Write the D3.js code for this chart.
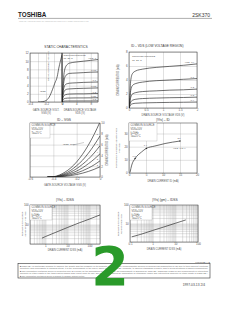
<!DOCTYPE html>
<html>
<head>
<meta charset="utf-8">
<script src="https://cdn.jsdelivr.net/npm/d3@7"></script>
<style>
  body { margin: 0; background: #fff; }
  svg { display: block; }
</style>
</head>
<body>
<div id="page"></div>
<script>
// values (2SK370, page 2/4)

// static characteristics, left half: ID (mA) vs VGS (V)
var staticVgs = [-0.30, -0.24, -0.20, -0.16, -0.12, -0.09, -0.06, -0.04, -0.02, 0];
var staticId = [0, 0.1, 0.35, 1.2, 3.0, 4.6, 6.2, 8.3, 10.0, 11.5];
// right half: ID (mA) vs VDS (V), one row per VGS step
var staticVds = [0, 0.3, 0.6, 1, 1.5, 2, 4, 6, 8, 10];
var staticSteps = ["VGS=0", "-0.05", "-0.1", "-0.15", "-0.2", "-0.25", "-0.3"];
var staticCurves = [
  [0, 4.5, 7.2, 8.6, 9.2, 9.5, 9.8, 10.0, 10.2, 10.4],
  [0, 3.4, 5.4, 6.4, 6.8, 7.0, 7.1, 7.2, 7.3, 7.35],
  [0, 2.4, 3.7, 4.3, 4.5, 4.6, 4.7, 4.8, 4.85, 4.9],
  [0, 1.7, 2.6, 3.0, 3.15, 3.2, 3.3, 3.35, 3.4, 3.45],
  [0, 1.1, 1.6, 1.8, 1.9, 1.95, 2.0, 2.0, 2.05, 2.1],
  [0, 0.55, 0.8, 0.9, 0.95, 0.97, 1.0, 1.0, 1.02, 1.05],
  [0, 0.15, 0.2, 0.23, 0.24, 0.25, 0.25, 0.26, 0.26, 0.27]
];

// ID - VDS, low voltage region
var lowVds = [0, 0.02, 0.05, 0.1, 0.2, 0.4, 0.8, 1.2, 1.6, 2.0];
var lowSteps = ["VGS=0V", "-0.1", "-0.2", "-0.3", "-0.4"];
var lowCurves = [
  [0, 1.5, 3.9, 4.9, 5.3, 5.55, 5.8, 5.95, 6.1, 6.3],
  [0, 1.0, 2.5, 3.2, 3.5, 3.7, 3.9, 4.0, 4.1, 4.2],
  [0, 0.6, 1.5, 2.0, 2.2, 2.35, 2.45, 2.55, 2.6, 2.7],
  [0, 0.35, 0.85, 1.1, 1.25, 1.35, 1.42, 1.47, 1.5, 1.55],
  [0, 0.2, 0.45, 0.6, 0.68, 0.73, 0.77, 0.8, 0.82, 0.85]
];

// ID - VGS, one row per IDSS rank
var gateVgs = [-0.45, -0.4, -0.35, -0.3, -0.25, -0.2, -0.15, -0.1, -0.05, 0];
var gateSteps = ["", "8", "6", "4", "3", "2"];
var gateCurves = [
  [0, 0.05, 0.35, 0.9, 1.7, 2.8, 4.2, 5.9, 7.9, 10.2],
  [0, 0.03, 0.25, 0.65, 1.25, 2.1, 3.1, 4.4, 5.9, 7.6],
  [0, 0.02, 0.18, 0.48, 0.92, 1.55, 2.35, 3.3, 4.45, 5.8],
  [0, 0.01, 0.12, 0.34, 0.66, 1.1, 1.7, 2.45, 3.3, 4.3],
  [0, 0, 0.08, 0.22, 0.44, 0.74, 1.15, 1.65, 2.25, 3.0],
  [0, 0, 0.04, 0.13, 0.27, 0.46, 0.71, 1.03, 1.42, 1.9]
];

// |Yfs| (mS) - ID (mA)
var yfsId = [0.3, 0.8, 1.8, 3.7, 5.1, 7.6, 10.6, 15];
var yfsVal = [0.4, 6, 11, 16, 18.7, 20.5, 22.4, 24.3];
var yfsMarks = [2, 4, 7];
var yfsMarkLabels = ["0.8", "1.4", "3.0"];

// |Yfs| - IDSS, log-log
var idssX = [0.7, 1, 3, 10, 30, 100, 300];
var idssYfs = [2.0, 2.4, 4.0, 7.0, 11.5, 19, 31];

// |Yfs| (gm) - IDSS, log-log
var gmX = [0.12, 0.3, 1, 3, 10, 29];
var gmYfs = [1.9, 2.6, 4.2, 6.4, 10.3, 15.6];

var font = "Liberation Sans, Arial, sans-serif";

var svg = d3.select("#page").append("svg")
    .attr("width", 240)
    .attr("height", 310);
svg.append("rect").attr("width", 240).attr("height", 310).attr("fill", "#fff");

function txt(x, y, s, size, anchor, fill, rot) {
    var t = svg.append("text")
        .attr("x", x).attr("y", y)
        .attr("font-family", font)
        .attr("font-size", size)
        .attr("fill", fill || "#444")
        .attr("text-anchor", anchor || "start")
        .text(s);
    if (rot) t.attr("transform", "rotate(-90," + x + "," + y + ")");
    return t;
}

var clipN = 0;
// grid, ticks and frame for one plot area
function grid(x, y, xt, yt, xf, yf, yRight) {
    var l = x.range()[0], r = x.range()[1];
    var b = y.range()[0], t = y.range()[1];
    var gx = svg.append("g")
        .attr("transform", "translate(0," + b + ")")
        .call(d3.axisBottom(x).tickValues(xt).tickSize(-(b - t)).tickPadding(1.3).tickFormat(xf));
    var gy = svg.append("g")
        .attr("transform", "translate(" + (yRight ? r : l) + ",0)")
        .call((yRight ? d3.axisRight(y) : d3.axisLeft(y)).tickValues(yt).tickSize(-(r - l)).tickPadding(1.3).tickFormat(yf));
    [gx, gy].forEach(function (g) {
        g.select(".domain").remove();
        g.selectAll("line").attr("stroke", "#9a9a9a").attr("stroke-width", 0.3);
        g.selectAll("text").attr("font-size", 2.9).attr("fill", "#555").attr("font-family", font);
    });
    svg.append("rect")
        .attr("x", l).attr("y", t).attr("width", r - l).attr("height", b - t)
        .attr("fill", "none").attr("stroke", "#333").attr("stroke-width", 0.5);
    clipN++;
    svg.append("clipPath").attr("id", "c" + clipN)
        .append("rect").attr("x", l).attr("y", t).attr("width", r - l).attr("height", b - t);
    return "url(#c" + clipN + ")";
}

function curve(x, y, xs, ys, clip, smooth) {
    var line = d3.line()
        .x(function (d) { return x(d[0]); })
        .y(function (d) { return y(d[1]); })
        .curve(smooth || d3.curveMonotoneX);
    svg.append("path")
        .datum(xs.map(function (v, i) { return [v, ys[i]]; }))
        .attr("d", line)
        .attr("clip-path", clip)
        .attr("fill", "none")
        .attr("stroke", "#222")
        .attr("stroke-width", 0.65);
}

function legend(x0, y0, w, h, lines) {
    svg.append("rect").attr("x", x0).attr("y", y0).attr("width", w).attr("height", h)
        .attr("fill", "#fff").attr("stroke", "#9a9a9a").attr("stroke-width", 0.3);
    lines.forEach(function (s, i) { txt(x0 + 1.5, y0 + 3.4 + i * 3.6, s, 2.6, "start", "#555"); });
}

var logFmt = function (d) { return Math.abs(Math.log10(d) % 1) < 1e-9 ? d : ""; };
// y labels on log charts: skip the bottom decade so it clears the x labels
var logFmtY = function (d) { return d > 1 && Math.abs(Math.log10(d) % 1) < 1e-9 ? d : ""; };
function logTicks(lo, hi) {
    var out = [];
    for (var e = Math.floor(Math.log10(lo)); e <= Math.ceil(Math.log10(hi)); e++)
        for (var m = 1; m < 10; m++) {
            var v = m * Math.pow(10, e);
            if (v >= lo && v <= hi) out.push(+v.toPrecision(3));
        }
    return out;
}

// ---------- header ----------
txt(18, 17, "TOSHIBA", 6.3, "start", "#222").attr("font-weight", "bold");
txt(210, 17, "2SK370", 5, "end", "#333");
svg.append("line").attr("x1", 18).attr("x2", 212).attr("y1", 18.4).attr("y2", 18.4)
    .attr("stroke", "#777").attr("stroke-width", 0.6);
txt(19, 21.6, "TOSHIBA FIELD EFFECT TRANSISTOR  SILICON N CHANNEL JUNCTION TYPE", 1.9, "start", "#bbb");

// ---------- static characteristics ----------
var s1y = d3.scaleLinear().domain([0, 12]).range([102, 53]);
var s1xL = d3.scaleLinear().domain([-0.4, 0]).range([30, 62]);
var s1xR = d3.scaleLinear().domain([0, 10]).range([62, 98]);
var cL = grid(s1xL, s1y, [-0.4, -0.3, -0.2, -0.1, 0], d3.range(0, 13, 2),
    function (d) { return Math.abs(d * 10) % 2 < 0.01 ? d : ""; }, function (d) { return d; });
var cR = grid(s1xR, s1y, [0, 2, 4, 6, 8, 10], d3.range(0, 13, 2),
    function (d) { return d % 4 === 0 ? d : ""; }, function () { return ""; });
svg.append("line").attr("x1", 62).attr("x2", 62).attr("y1", 53).attr("y2", 102)
    .attr("stroke", "#333").attr("stroke-width", 0.5);
curve(s1xL, s1y, staticVgs, staticId, cL);
staticCurves.forEach(function (c, i) {
    curve(s1xR, s1y, staticVds, c, cR);
    txt(96, s1y(c[c.length - 1]) - 0.8, staticSteps[i], 2.4, "end", "#555");
});
txt(66, 47.5, "STATIC CHARACTERISTICS", 3.3, "middle", "#333");
txt(63.5, 56.2, "COMMON SOURCE", 2.4, "start", "#555");
txt(63.5, 59.2, "Ta=25°C", 2.4, "start", "#555");
txt(48.5, 66, "DRAIN CURRENT  ID  (mA)", 2.5, "middle", "#555", true);
txt(40, 92, "IDSS", 2.4, "start", "#555");
txt(46, 110.5, "GATE-SOURCE VOLT.", 2.6, "middle", "#555");
txt(46, 114, "VGS   (V)", 2.6, "middle", "#555");
txt(80, 110.5, "DRAIN-SOURCE VOLTAGE", 2.6, "middle", "#555");
txt(80, 114, "VDS   (V)", 2.6, "middle", "#555");

// ---------- ID - VDS (low voltage region) ----------
var s2x = d3.scaleLinear().domain([0, 2]).range([129, 197]);
var s2y = d3.scaleLinear().domain([0, 8]).range([108, 52]);
var c2 = grid(s2x, s2y, [0, 0.5, 1, 1.5, 2], [0, 2, 4, 6, 8],
    function (d) { return d; }, function (d) { return d; });
lowCurves.forEach(function (c, i) {
    curve(s2x, s2y, lowVds, c, c2);
    txt(194, s2y(c[c.length - 1]) - 1, lowSteps[i], 2.4, "end", "#555");
});
txt(131, 46.5, "ID – VDS     (LOW VOLTAGE REGION)", 3.2, "start", "#333");
txt(132, 56.5, "COMMON SOURCE", 2.5, "start", "#555");
txt(132, 60.5, "Ta=25°C", 2.5, "start", "#555");
txt(118.5, 80, "DRAIN CURRENT   ID   (mA)", 2.6, "middle", "#555", true);
txt(163, 115.5, "DRAIN-SOURCE VOLTAGE   VDS   (V)", 2.6, "middle", "#555");

// ---------- ID - VGS ----------
var s3x = d3.scaleLinear().domain([-0.6, 0]).range([30, 100]);
var s3y = d3.scaleLinear().domain([0, 10]).range([177, 123]);
var c3 = grid(s3x, s3y, [-0.6, -0.4, -0.2, 0], [0, 2, 4, 6, 8, 10],
    function (d) { return d; }, function (d) { return d; }, true);
legend(30, 123, 20, 15, ["COMMON SOURCE", "VDS=10V", "Ta=25°C"]);
gateCurves.forEach(function (c, i) {
    curve(s3x, s3y, gateVgs, c, c3);
    if (gateSteps[i]) txt(98, s3y(c[c.length - 1]) - 0.8, gateSteps[i], 2.3, "end", "#555");
});
txt(64, 120.5, "ID – VGS", 3.3, "middle", "#333");
txt(63, 144.5, "IDSS=10mA", 2.4, "start", "#555");
svg.append("line").attr("x1", 73).attr("x2", 84).attr("y1", 145).attr("y2", 142.5)
    .attr("stroke", "#555").attr("stroke-width", 0.3);
txt(107.5, 150, "DRAIN CURRENT   ID   (mA)", 2.6, "middle", "#555", true);
txt(65, 186, "GATE-SOURCE VOLTAGE   VGS   (V)", 2.6, "middle", "#555");

// ---------- |Yfs| - ID ----------
var s4x = d3.scaleLinear().domain([0, 20]).range([129, 197]);
var s4y = d3.scaleLinear().domain([0, 38]).range([173, 123]);
var c4 = grid(s4x, s4y, [0, 5, 10, 15, 20], [0, 10, 20, 30],
    function (d) { return d; }, function (d) { return d; });
legend(129, 123, 28, 18, ["COMMON SOURCE", "VDS=10V", "f=1kHz", "Ta=25°C"]);
curve(s4x, s4y, yfsId, yfsVal, c4, d3.curveMonotoneX);
yfsMarks.forEach(function (k, i) {
    svg.append("circle").attr("cx", s4x(yfsId[k])).attr("cy", s4y(yfsVal[k])).attr("r", 0.7).attr("fill", "#222");
    txt(s4x(yfsId[k]) - 1, s4y(yfsVal[k]) - 2, yfsMarkLabels[i], 2.3, "middle", "#555");
});
txt(163, 120.5, "|Yfs| – ID", 3.3, "middle", "#333");
txt(173, 148.5, "VGS=0 to V", 2.4, "start", "#555");
txt(116.5, 148, "FORWARD TRANSFER ADMITTANCE", 2.3, "middle", "#555", true);
txt(120, 148, "|Yfs|   (mS)", 2.3, "middle", "#555", true);
txt(163, 182, "DRAIN CURRENT   ID   (mA)", 2.6, "middle", "#555");

// ---------- |Yfs| - IDSS ----------
var s5x = d3.scaleLog().domain([0.2, 300]).range([30, 100]);
var s5y = d3.scaleLog().domain([1, 100]).range([244, 205]);
var c5 = grid(s5x, s5y, logTicks(0.2, 300), logTicks(1, 100), logFmt, logFmtY);
legend(30, 205, 22, 15, ["COMMON SOURCE", "VDS=10V", "f=1kHz", "Ta=25°C"]);
curve(s5x, s5y, idssX, idssYfs, c5, d3.curveLinear);
txt(65, 200.5, "|Yfs| – IDSS", 3.3, "middle", "#333");
txt(22.5, 224, "FORWARD TRANSFER", 2.3, "middle", "#555", true);
txt(25.5, 224, "ADMITTANCE |Yfs| (mS)", 2.3, "middle", "#555", true);
txt(65, 251, "DRAIN CURRENT   IDSS   (mA)", 2.6, "middle", "#555");

// ---------- |Yfs| (gm) - IDSS ----------
var s6x = d3.scaleLog().domain([0.1, 100]).range([130, 198]);
var s6y = d3.scaleLog().domain([1, 100]).range([242, 205]);
var c6 = grid(s6x, s6y, logTicks(0.1, 100), logTicks(1, 100), logFmt, logFmtY);
legend(130, 205, 22, 15, ["COMMON SOURCE", "VDS=10V", "f=1kHz", "Ta=25°C"]);
curve(s6x, s6y, gmX, gmYfs, c6, d3.curveLinear);
txt(165, 200.5, "|Yfs| (gm) – IDSS", 3.3, "middle", "#333");
txt(119, 224, "FORWARD TRANSFER", 2.3, "middle", "#555", true);
txt(122, 224, "ADMITTANCE (mS)", 2.3, "middle", "#555", true);
txt(164, 250, "DRAIN CURRENT   IDSS   (mA)", 2.6, "middle", "#555");

// ---------- notice box ----------
txt(210, 262.6, "961001EAA2", 2.5, "end", "#555");
svg.append("rect").attr("x", 18).attr("y", 263.5).attr("width", 192).attr("height", 14.5)
    .attr("fill", "#fff").attr("stroke", "#333").attr("stroke-width", 0.6);
var notice = [
    "\u25A0 TOSHIBA is continually working to improve the quality and the reliability of its products. Nevertheless, semiconductor devices in general can malfunction or fail due to their inherent electrical",
    "   sensitivity and vulnerability to physical stress. It is the responsibility of the buyer, when utilizing TOSHIBA products, to observe standards of safety, and to avoid situations in which a malfunction.",
    "\u25A0 The information contained herein is presented only as a guide for the applications of our products. No responsibility is assumed by TOSHIBA CORPORATION for any infringements of intellectual",
    "   property or other rights of the third parties which may result from its use. No license is granted by implication or otherwise under any intellectual property or other rights of TOSHIBA.",
    "\u25A0 The information contained herein is subject to change without notice."
];
notice.forEach(function (s, i) {
    var t = txt(20, 266.6 + i * 2.55, s, 2.1, "start", "#666");
    if (i < 4) t.attr("textLength", 188).attr("lengthAdjust", "spacingAndGlyphs");
});

// page number watermark and date
txt(110, 285, "2", 54, "middle", "#2a9a2a").attr("font-family", "DejaVu Sans, sans-serif").attr("font-weight", "bold");
txt(205, 285.5, "1997-03-13    2/4", 3.3, "end", "#444");
</script>
</body>
</html>
